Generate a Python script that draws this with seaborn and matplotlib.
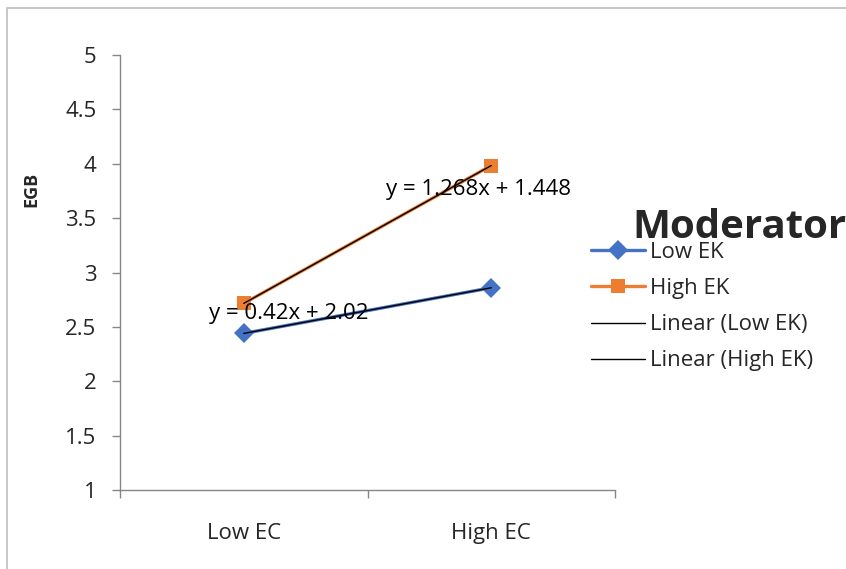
import numpy as np
import pandas as pd
import matplotlib
matplotlib.use("Agg")
import matplotlib.pyplot as plt
import seaborn as sns
from matplotlib.lines import Line2D
from matplotlib.patches import Rectangle

categories = ["Low EC", "High EC"]
low_ek = [2.44, 2.86]
high_ek = [2.716, 3.984]
series_names = ["Low EK", "High EK"]
y_ticks = [1, 1.5, 2, 2.5, 3, 3.5, 4, 4.5, 5]

sns.set_theme(style="white")
plt.rcParams['font.family'] = ['Open Sans', 'DejaVu Sans']

df = pd.DataFrame({
    "EC": categories * 2,
    "EGB": low_ek + high_ek,
    "Moderator": [series_names[0]] * 2 + [series_names[1]] * 2,
})

fig = plt.figure(figsize=(8.46, 5.69), dpi=100)
ax = fig.add_axes([0.1418, 0.1388, 0.727 - 0.1418, 0.9033 - 0.1388])

blue = "#4472C4"
orange = "#ED7D31"
sns.lineplot(data=df, x="EC", y="EGB", hue="Moderator", style="Moderator",
             palette=[blue, orange], markers=["D", "s"], dashes=False,
             markersize=10, linewidth=2.4, ax=ax, legend=False,
             markeredgewidth=0)

FS = 16
xs = np.arange(len(categories))
for vals, tx, ty in [(low_ek, 0.18, 2.62), (high_ek, 0.95, 3.76)]:
    slope, intercept = np.polyfit(xs + 1, vals, 1)
    ax.plot(xs, intercept + slope * (xs + 1), color="black", lw=1.0, zorder=5)
    ax.text(tx, ty, f"y = {slope:g}x + {intercept:g}", fontsize=FS,
            ha="center", va="center", color="black", zorder=6)

ax.set_xlim(-0.5, 1.5)
ax.set_ylim(1, 5)
ax.set_yticks(y_ticks)
ax.set_yticklabels([f"{t:g}" for t in y_ticks], fontsize=FS)
ax.set_xticks(xs)
ax.set_xticklabels(categories, fontsize=FS)
ax.set_xticks([-0.5, 0.5, 1.5], minor=True)
ax.tick_params(axis="x", which="major", length=0, pad=24)
ax.tick_params(axis="x", which="minor", length=6, color="#868686", width=1, direction="out", bottom=True)
ax.tick_params(axis="y", length=6, color="#868686", width=1, direction="out", left=True, pad=11)
ax.set_xlabel("")
ax.set_ylabel("EGB", fontsize=13, fontweight="bold")
ax.yaxis.set_label_coords(-0.16, 0.69)
for s in ["top", "right"]:
    ax.spines[s].set_visible(False)
for s in ["left", "bottom"]:
    ax.spines[s].set_color("#868686")
    ax.spines[s].set_linewidth(1)

handles = [
    Line2D([], [], color=blue, marker="D", markersize=10, lw=2.4, markeredgewidth=0),
    Line2D([], [], color=orange, marker="s", markersize=10, lw=2.4, markeredgewidth=0),
    Line2D([], [], color="black", lw=1.0),
    Line2D([], [], color="black", lw=1.0),
]
labels = series_names + [f"Linear ({n})" for n in series_names]
leg = fig.legend(handles, labels, loc="upper left", bbox_to_anchor=(0.686, 0.594),
                 frameon=False, fontsize=FS, handlelength=2.4, handletextpad=0.22,
                 labelspacing=0.68, borderpad=0)
fig.text(0.748, 0.5817, "Moderator", fontsize=29, fontweight="bold", ha="left", va="baseline")

fig.patches.append(Rectangle((7 / 846, -0.1), 1.2, 1 - 8 / 569 + 0.1, transform=fig.transFigure,
                             fill=False, edgecolor="#BFBFBF", lw=1.2))

fig.savefig("out.png", dpi=100)
